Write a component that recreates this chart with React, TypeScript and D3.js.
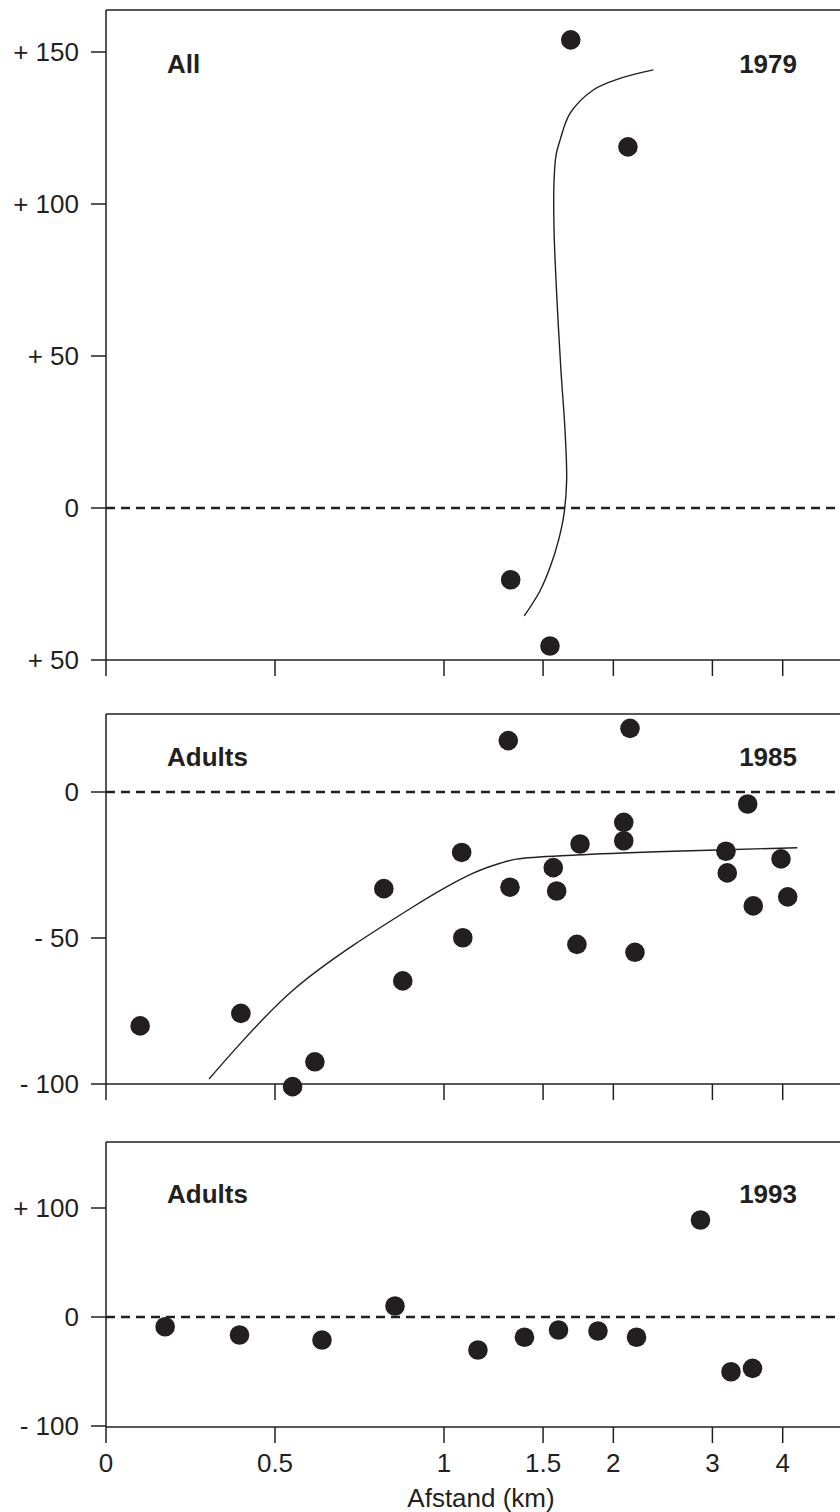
import React from "react";
import * as d3 from "d3";

// ---- data ----
const xTickValues = [0, 0.5, 1, 1.5, 2, 3, 4];
const xTickLabels = ["0", "0.5", "1", "1.5", "2", "3", "4"];

// Panel 1: All, 1979
const p1Ticks = [150, 100, 50, 0, -50];
const p1TickLabels = ["+ 150", "+ 100", "+ 50", "0", "+ 50"];
const p1X = [1.68, 2.123, 1.314, 1.543];
const p1Y = [154, 118.8, -23.6, -45.4];
const p1CurveX = [1.389, 1.481, 1.543, 1.597, 1.634, 1.652, 1.641, 1.614, 1.588, 1.569, 1.569, 1.582, 1.608, 1.675, 1.842, 2.055, 2.355];
const p1CurveY = [-35.5, -27.3, -19.6, -10.8, -2.0, 9.0, 25.5, 45.2, 68.3, 91.4, 107.8, 116.1, 121.0, 129.8, 137.5, 141.3, 144.1];

// Panel 2: Adults, 1985
const p2Ticks = [0, -50, -100];
const p2TickLabels = ["0", "- 50", "- 100"];
const p2X = [0.101, 0.399, 0.552, 0.618, 0.822, 0.878, 1.075, 1.08, 1.301, 1.31, 1.564, 1.586, 1.745, 1.723, 2.087, 2.087, 2.141, 2.185, 3.171, 3.188, 3.466, 3.546, 3.972, 4.083];
const p2Y = [-80.1, -75.8, -100.9, -92.4, -33.1, -64.7, -20.7, -49.9, 17.6, -32.6, -25.9, -33.9, -17.8, -52.2, -10.4, -16.7, 21.8, -54.9, -20.3, -27.7, -4.1, -39.0, -22.9, -35.9];
const p2CurveX = [0.305, 0.554, 0.909, 1.127, 1.258, 1.346, 1.716, 2.556, 4.246];
const p2CurveY = [-98.3, -67.8, -39.3, -27.8, -24.4, -23.0, -21.6, -20.3, -19.1];

// Panel 3: Adults, 1993
const p3Ticks = [100, 0, -100];
const p3TickLabels = ["+ 100", "0", "- 100"];
const p3X = [0.175, 0.395, 0.639, 0.855, 1.149, 1.39, 1.598, 1.878, 2.199, 2.857, 3.237, 3.535];
const p3Y = [-8.9, -16.5, -21.1, 10.1, -30.3, -18.6, -11.9, -12.8, -18.6, 89.0, -50.2, -47.1];

const panelLabels = ["All", "Adults", "Adults"];
const panelYears = ["1979", "1985", "1993"];
const xAxisTitle = "Afstand (km)";

// ---- layout ----
const W = 840;
const H = 1512;
const LEFT = 106;
const RIGHT = 846;
const INK = "#231f20";
const FONT = "'Liberation Sans', Arial, Helvetica, sans-serif";

const xLin = d3.scaleLinear().domain([0, 1]).range([106, 444]);
const xLog = d3.scaleLog().domain([1, 4]).range([444, 782.7]);
const x = (v: number) => (v <= 1 ? xLin(v) : xLog(v));

type Panel = {
  top: number;
  bottom: number;
  y: d3.ScaleLinear<number, number>;
  ticks: number[];
  tickLabels: string[];
  px: number[];
  py: number[];
  cx?: number[];
  cy?: number[];
  label: string;
  year: string;
  labelBase: number;
  showXLabels: boolean;
};

const panels: Panel[] = [
  {
    top: 10, bottom: 660,
    y: d3.scaleLinear().domain([-50, 150]).range([660, 52]),
    ticks: p1Ticks, tickLabels: p1TickLabels,
    px: p1X, py: p1Y, cx: p1CurveX, cy: p1CurveY,
    label: panelLabels[0], year: panelYears[0], labelBase: 73, showXLabels: false,
  },
  {
    top: 714, bottom: 1084,
    y: d3.scaleLinear().domain([-100, 0]).range([1084, 792]),
    ticks: p2Ticks, tickLabels: p2TickLabels,
    px: p2X, py: p2Y, cx: p2CurveX, cy: p2CurveY,
    label: panelLabels[1], year: panelYears[1], labelBase: 766, showXLabels: false,
  },
  {
    top: 1142, bottom: 1427,
    y: d3.scaleLinear().domain([-100, 100]).range([1426, 1208]),
    ticks: p3Ticks, tickLabels: p3TickLabels,
    px: p3X, py: p3Y,
    label: panelLabels[2], year: panelYears[2], labelBase: 1203, showXLabels: true,
  },
];

function PanelView({ p }: { p: Panel }) {
  const line = d3
    .line<number>()
    .x((_, i) => x(p.cx![i]))
    .y((_, i) => p.y(p.cy![i]))
    .curve(d3.curveCatmullRom.alpha(0.5));
  const y0 = p.y(0);
  return (
    <g>
      <line x1={LEFT} x2={RIGHT} y1={p.top} y2={p.top} stroke={INK} strokeWidth={1.5} />
      <line x1={LEFT} x2={RIGHT} y1={p.bottom} y2={p.bottom} stroke={INK} strokeWidth={1.5} />
      <line x1={LEFT} x2={LEFT} y1={p.top} y2={p.bottom} stroke={INK} strokeWidth={1.5} />
      <line x1={LEFT} x2={RIGHT} y1={y0} y2={y0} stroke={INK} strokeWidth={2.5} strokeDasharray="9,6" />
      {p.ticks.map((t, i) => (
        <g key={"yt" + i}>
          <line x1={LEFT - 15} x2={LEFT} y1={p.y(t)} y2={p.y(t)} stroke={INK} strokeWidth={1.5} />
          <text x={79} y={p.y(t) + 9} textAnchor="end" fontSize={26} fontFamily={FONT} fill={INK}>
            {p.tickLabels[i]}
          </text>
        </g>
      ))}
      {xTickValues.map((v, i) => (
        <g key={"xt" + i}>
          <line x1={x(v)} x2={x(v)} y1={p.bottom} y2={p.bottom + 16} stroke={INK} strokeWidth={1.5} />
          {p.showXLabels && (
            <text x={x(v)} y={p.bottom + 45} textAnchor="middle" fontSize={26} fontFamily={FONT} fill={INK}>
              {xTickLabels[i]}
            </text>
          )}
        </g>
      ))}
      {p.cx && (
        <path d={line(p.cx) || ""} fill="none" stroke={INK} strokeWidth={1.4} />
      )}
      {p.px.map((v, i) => (
        <circle key={"pt" + i} cx={x(v)} cy={p.y(p.py[i])} r={9.8} fill={INK} />
      ))}
      <text x={167} y={p.labelBase} fontSize={26} fontWeight="bold" fontFamily={FONT} fill={INK}>
        {p.label}
      </text>
      <text x={797} y={p.labelBase} textAnchor="end" fontSize={26} fontWeight="bold" fontFamily={FONT} fill={INK}>
        {p.year}
      </text>
    </g>
  );
}

export default function App() {
  return (
    <svg
      width={W}
      height={H}
      viewBox={`0 0 ${W} ${H}`}
      style={{ position: "absolute", left: 0, top: 0, background: "#fff" }}
    >
      <rect x={0} y={0} width={W} height={H} fill="#fff" />
      {panels.map((p, i) => (
        <PanelView key={i} p={p} />
      ))}
      <text x={481} y={1507} textAnchor="middle" fontSize={26} fontFamily={FONT} fill={INK}>
        {xAxisTitle}
      </text>
    </svg>
  );
}
